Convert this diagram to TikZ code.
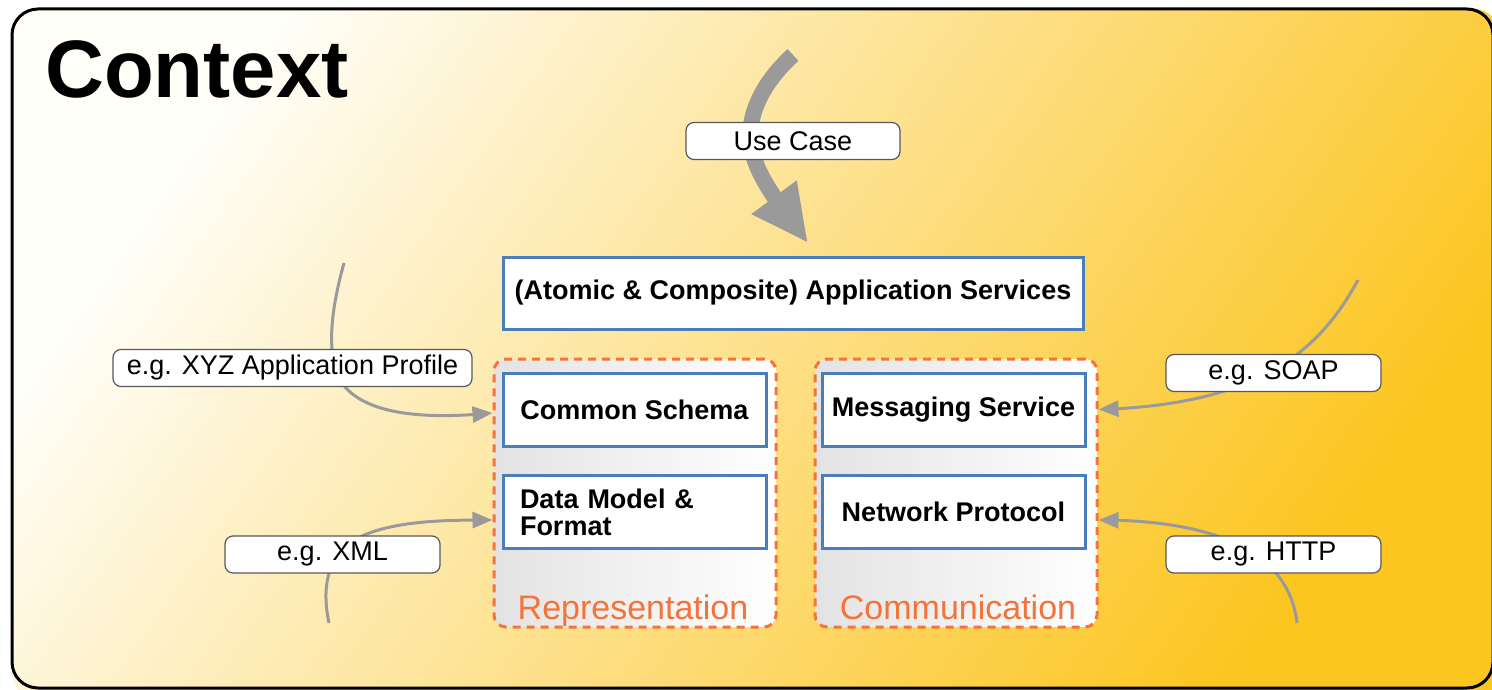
\documentclass[tikz,border=0pt]{standalone}
\usepackage{fontspec}
\setmainfont{Liberation Sans}
\usetikzlibrary{arrows.meta,calc,bending}
\definecolor{frameblue}{HTML}{4A7EBB}
\definecolor{dashorange}{HTML}{F4743B}
\definecolor{txtorange}{HTML}{F4733A}
\definecolor{arrgray}{HTML}{9A9A9A}
\definecolor{gold}{HTML}{FCC51F}
\definecolor{goldmid}{HTML}{FDE08A}
\definecolor{cream}{HTML}{FFFEF8}
\begin{document}
\begin{tikzpicture}[x=1pt,y=-1pt,
 box/.style={draw=frameblue, line width=3pt, fill=white, minimum width=263pt, minimum height=73pt, font=\fontsize{27}{27}\selectfont\bfseries, inner sep=0pt},
 grp/.style={draw=dashorange, line width=3pt, dash pattern=on 8pt off 6pt, rounded corners=12pt, left color=gray!22, right color=white, minimum width=282pt, minimum height=268pt, inner sep=0pt},
 lbl/.style={draw=black!65, line width=1.2pt, fill=white, rounded corners=8pt, minimum height=37pt, font=\fontsize{27}{28}\selectfont, inner sep=0pt},
 thin/.style={draw=arrgray, line width=3pt, -{Triangle[length=20pt,width=16pt]}},
 bigarrow/.style={draw=arrgray, line width=16pt, -{Triangle[length=57pt,width=52pt]}},
 grpname/.style={text=txtorange, font=\fontsize{34}{36}\selectfont, inner sep=0pt, anchor=base}
]
\path[use as bounding box] (0,0) rectangle (1492,690);
\begin{scope}
\clip (0,0) rectangle (1492,690);
\shade[top color=cream, bottom color=gold, middle color=goldmid, shading angle=55, rounded corners=26pt] (12,9) rectangle (1500,700);
\draw[line width=3pt, rounded corners=26pt] (12,9) rectangle (1493,688);
\end{scope}
\node[anchor=base west, inner sep=0pt, font=\fontsize{81.5}{82}\selectfont\bfseries] (ctx) at (45,98) {Context};

% groups
\node[grp] (rep) at (635,493) {};
\node[grp] (comm) at (956,493) {};
\node[grpname] (repname) at (633,619) {Representation};
\node[grpname] (commname) at (958,619) {Communication};

% boxes
\node[box, minimum width=580pt, minimum height=72pt] (app) at (793,293) {(Atomic \& Composite) Application Services};
\node[box] (cs) at (634.5,409.5) {Common Schema};
\node[box, inner xsep=17pt, text width=229pt, align=left] (dm) at (634.5,512) {Data Model \&\\Format};
\node[box] (ms) at (953.5,409.5) {Messaging Service};
\node[box] (np) at (953.5,512) {Network Protocol};

% connectors
\coordinate (xyzs) at (344,263);
\coordinate (xmls) at (329,623);
\coordinate (soaps) at (1358,280);
\coordinate (https) at (1297,623);
\draw[thin] (xyzs) .. controls (328,320) and (325,370) .. (350,392) .. controls (380,418) and (440,418) .. ($(rep.west |- cs)+(0,3.5)$);
\draw[thin] (xmls) .. controls (322,590) and (325,555) .. (360,537) .. controls (395,520) and (450,520) .. ($(rep.west |- dm)+(0,8)$);
\draw[thin] (soaps) .. controls (1320,350) and (1260,405) .. (comm.east |- ms);
\draw[thin] (https) .. controls (1290,560) and (1230,520) .. ($(comm.east |- np)+(0,8)$);

\coordinate (ucs) at (793,55);
\coordinate (uct) at (808,243);
\draw[bigarrow] (ucs) .. controls (760,85) and (745,120) .. (752,150) .. controls (757,175) and (775,200) .. (uct);

% labels
\node[lbl, minimum width=214pt] (uc) at (793,141) {Use Case};
\node[lbl, minimum width=359pt] (xyz) at (292.5,368) {e.g. XYZ Application Profile};
\node[lbl, minimum width=215pt] (xml) at (332.5,554.5) {e.g. XML};
\node[lbl, minimum width=215pt] (soap) at (1273.5,373) {e.g. SOAP};
\node[lbl, minimum width=215pt] (http) at (1273.5,554.5) {e.g. HTTP};
\end{tikzpicture}
\end{document}
